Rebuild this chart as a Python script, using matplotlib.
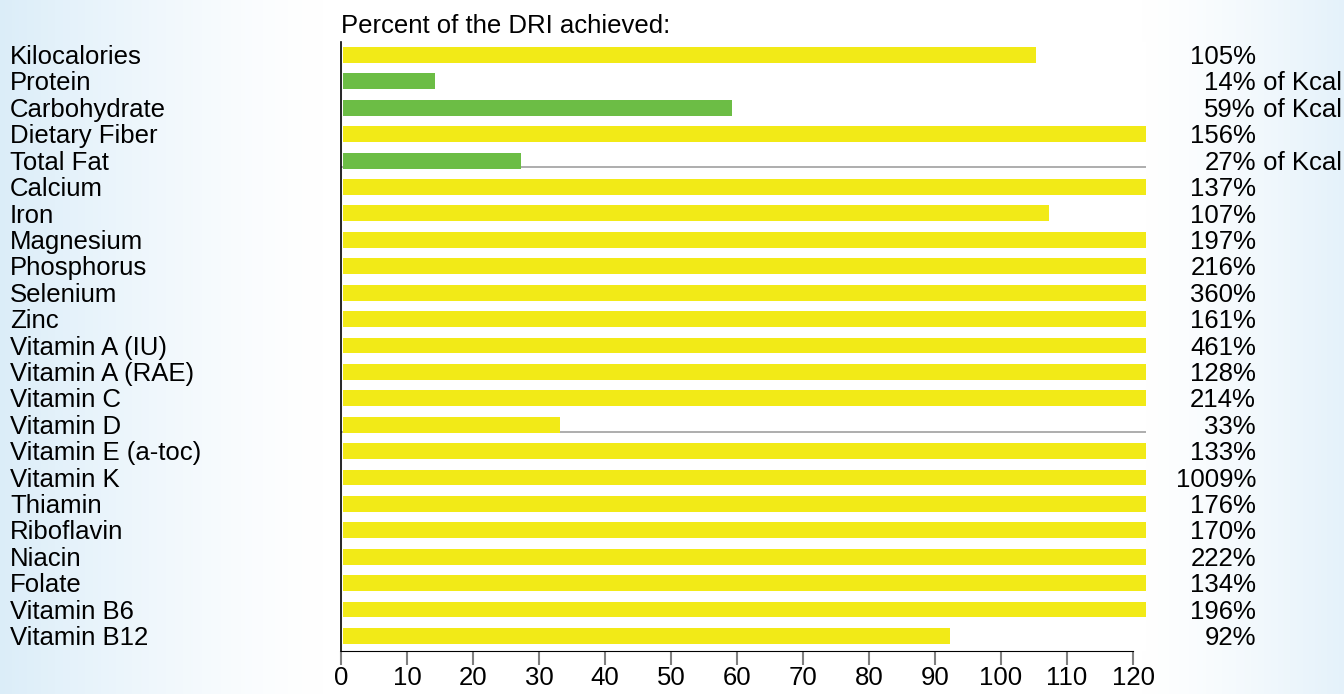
import numpy as np
import matplotlib
matplotlib.use("Agg")
import matplotlib.pyplot as plt
import matplotlib.transforms as mtransforms

# nutrients, top to bottom
NUTRIENTS = [
    "Kilocalories", "Protein", "Carbohydrate", "Dietary Fiber", "Total Fat",
    "Calcium", "Iron", "Magnesium", "Phosphorus", "Selenium", "Zinc",
    "Vitamin A (IU)", "Vitamin A (RAE)", "Vitamin C", "Vitamin D",
    "Vitamin E (a-toc)", "Vitamin K", "Thiamin", "Riboflavin", "Niacin",
    "Folate", "Vitamin B6", "Vitamin B12",
]
PERCENT = [105, 14, 59, 156, 27, 137, 107, 197, 216, 360, 161, 461, 128,
           214, 33, 133, 1009, 176, 170, 222, 134, 196, 92]
# True -> share of kilocalories (green bar, "of Kcal" label)
OF_KCAL = [False, True, True, False, True] + [False] * 18
# rows that get the thin grey guide line
GUIDE_ROWS = ["Total Fat", "Vitamin D"]

X_TICKS = list(range(0, 130, 10))
X_MAX = 122
YELLOW = "#f2ea17"
GREEN = "#6cbd45"
FS = 18.5

plt.rcParams["font.family"] = ["Liberation Sans", "DejaVu Sans"]

fig = plt.figure(figsize=(13.44, 6.94), dpi=100)

# light blue gradient on both edges of the page
bg = fig.add_axes([0, 0, 1, 1], zorder=-10)
xs = np.linspace(0, 1, 1344)
left = np.clip(1 - xs / 0.24, 0, 1) ** 1.3
right = np.clip((xs - 0.85) / 0.15, 0, 1) ** 1.3
w = np.maximum(left, right * 0.75)
edge = np.array([0.86, 0.93, 0.975])
img = 1 - w[None, :, None] * (1 - edge[None, None, :])
bg.imshow(np.repeat(img, 2, axis=0), aspect="auto", extent=[0, 1, 0, 1])
bg.axis("off")

ax = fig.add_axes([341 / 1344, 43 / 694, (X_MAX * 6.6) / 1344, 609 / 694])
ax.set_facecolor("white")

n = len(NUTRIENTS)
y = np.arange(n)
vals = np.minimum(np.array(PERCENT, dtype=float), X_MAX)
colors = [GREEN if k else YELLOW for k in OF_KCAL]

for name in GUIDE_ROWS:
    i = NUTRIENTS.index(name)
    ax.hlines(i + 0.26, 0, X_MAX, color="#a0a0a0", lw=1.2, zorder=1)

ax.barh(y, vals, height=0.6, left=0.25, color=colors, zorder=2)

ax.set_xlim(0, X_MAX)
ax.set_ylim(n - 1 + 0.57, -0.49)
ax.set_yticks([])
ax.set_xticks(X_TICKS)
ax.set_xticklabels([str(t) for t in X_TICKS], fontsize=18.5)
ax.tick_params(axis="x", length=10, width=1.5, color="#808080", pad=1)
ax.spines["bottom"].set_bounds(0, 120)
ax.spines["top"].set_visible(False)
ax.spines["right"].set_visible(False)
ax.spines["left"].set_linewidth(1.2)

trans = mtransforms.blended_transform_factory(fig.transFigure, ax.transData)
for i, (name, pct, kc) in enumerate(zip(NUTRIENTS, PERCENT, OF_KCAL)):
    yy = i + 0.08
    ax.text(10 / 1344, yy, name, transform=trans, ha="left", va="center",
            fontsize=FS, clip_on=False)
    ax.text(1256 / 1344, yy, f"{pct}%", transform=trans, ha="right",
            va="center", fontsize=FS, clip_on=False)
    if kc:
        ax.text(1256 / 1344, yy, " of Kcal", transform=trans, ha="left",
                va="center", fontsize=FS, clip_on=False)

fig.text(341 / 1344, 1 - 26 / 694, "Percent of the DRI achieved:",
         ha="left", va="center", fontsize=FS)

fig.savefig("out.png", dpi=100)
